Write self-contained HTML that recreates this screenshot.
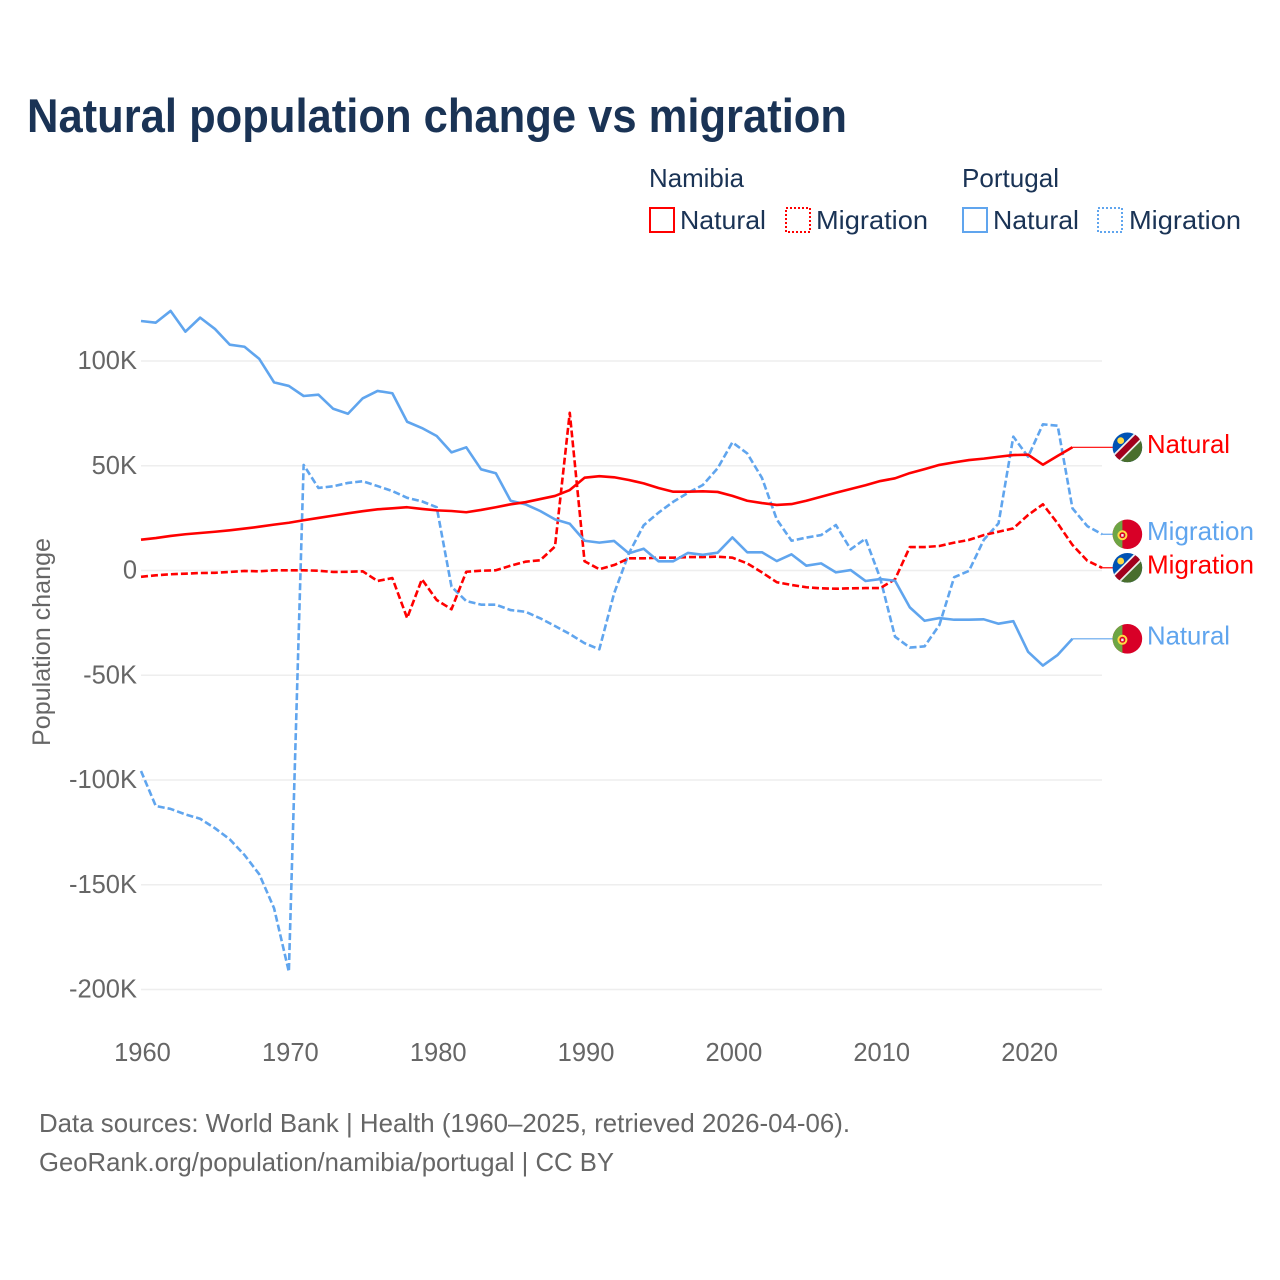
<!DOCTYPE html>
<html lang="en">
<head>
<meta charset="utf-8">
<title>Natural population change vs migration</title>
<style>
html,body{margin:0;padding:0;background:#fff;}
svg{display:block;font-family:"Liberation Sans",sans-serif;}
</style>
</head>
<body>
<svg id="chart" width="1280" height="1280" viewBox="0 0 1280 1280" xmlns="http://www.w3.org/2000/svg">
  <rect width="1280" height="1280" fill="#fff"/>
  <text x="27" y="132" font-size="47" font-weight="700" fill="#1a3355" textLength="820" lengthAdjust="spacingAndGlyphs">Natural population change vs migration</text>

  <g font-size="26" fill="#1a3355">
    <text x="649" y="187" textLength="95" lengthAdjust="spacingAndGlyphs">Namibia</text>
    <text x="962" y="187" textLength="97" lengthAdjust="spacingAndGlyphs">Portugal</text>
    <rect x="650" y="208" width="24" height="24" fill="none" stroke="#ff0000" stroke-width="2"/>
    <text x="680" y="229" textLength="86" lengthAdjust="spacingAndGlyphs">Natural</text>
    <rect x="786" y="208" width="24" height="24" fill="none" stroke="#ff0000" stroke-width="2" stroke-dasharray="2 2"/>
    <text x="816" y="229" textLength="112" lengthAdjust="spacingAndGlyphs">Migration</text>
    <rect x="963" y="208" width="24" height="24" fill="none" stroke="#60a5ee" stroke-width="2"/>
    <text x="993" y="229" textLength="86" lengthAdjust="spacingAndGlyphs">Natural</text>
    <rect x="1098" y="208" width="24" height="24" fill="none" stroke="#60a5ee" stroke-width="2" stroke-dasharray="2 2"/>
    <text x="1129" y="229" textLength="112" lengthAdjust="spacingAndGlyphs">Migration</text>
  </g>

  <g id="grid"></g>
  <g id="y-ticks" font-size="25.5" fill="#666" text-anchor="end"></g>
  <g id="x-ticks" font-size="25.5" fill="#666" text-anchor="middle"></g>
  <text transform="translate(50,642) rotate(-90)" text-anchor="middle" font-size="25" fill="#666" textLength="208" lengthAdjust="spacingAndGlyphs">Population change</text>

  <g id="series" fill="none"></g>

  <defs>
    <clipPath id="flag-clip"><circle cx="0" cy="0" r="14.8"/></clipPath>
  </defs>

  <g id="flag-namibia-natural">
    <g clip-path="url(#flag-clip)">
      <rect x="-15" y="-15" width="30" height="30" fill="#0052b4"/>
      <polygon points="15,-15 15,15 -15,15" fill="#496e2d"/>
      <line x1="-15" y1="15" x2="15" y2="-15" stroke="#f0f0f0" stroke-width="10"/>
      <line x1="-15" y1="15" x2="15" y2="-15" stroke="#a2001d" stroke-width="6.5"/>
      <circle cx="-6.7" cy="-6.7" r="3.4" fill="#ffda44"/>
    </g>
  </g>
  <g id="flag-namibia-migration">
    <g clip-path="url(#flag-clip)">
      <rect x="-15" y="-15" width="30" height="30" fill="#0052b4"/>
      <polygon points="15,-15 15,15 -15,15" fill="#496e2d"/>
      <line x1="-15" y1="15" x2="15" y2="-15" stroke="#f0f0f0" stroke-width="10"/>
      <line x1="-15" y1="15" x2="15" y2="-15" stroke="#a2001d" stroke-width="6.5"/>
      <circle cx="-6.7" cy="-6.7" r="3.4" fill="#ffda44"/>
    </g>
  </g>
  <g id="flag-portugal-natural">
    <g clip-path="url(#flag-clip)">
      <rect x="-15" y="-15" width="30" height="30" fill="#d80027"/>
      <rect x="-15" y="-15" width="10" height="30" fill="#6da544"/>
      <circle cx="-5" cy="1" r="4" fill="#d80027" stroke="#ffda44" stroke-width="2"/>
      <rect x="-6.2" y="-0.2" width="2.4" height="2.6" fill="#f0f0f0"/>
    </g>
  </g>
  <g id="flag-portugal-migration">
    <g clip-path="url(#flag-clip)">
      <rect x="-15" y="-15" width="30" height="30" fill="#d80027"/>
      <rect x="-15" y="-15" width="10" height="30" fill="#6da544"/>
      <circle cx="-5" cy="1" r="4" fill="#d80027" stroke="#ffda44" stroke-width="2"/>
      <rect x="-6.2" y="-0.2" width="2.4" height="2.6" fill="#f0f0f0"/>
    </g>
  </g>

  <g font-size="26">
    <text id="label-namibia-natural" x="1147" fill="#ff0000" textLength="83" lengthAdjust="spacingAndGlyphs">Natural</text>
    <text id="label-namibia-migration" x="1147" fill="#ff0000" textLength="107" lengthAdjust="spacingAndGlyphs">Migration</text>
    <text id="label-portugal-natural" x="1147" fill="#60a5ee" textLength="83" lengthAdjust="spacingAndGlyphs">Natural</text>
    <text id="label-portugal-migration" x="1147" fill="#60a5ee" textLength="107" lengthAdjust="spacingAndGlyphs">Migration</text>
  </g>

  <g font-size="26" fill="#666">
    <text x="39" y="1132" textLength="811" lengthAdjust="spacingAndGlyphs">Data sources: World Bank | Health (1960–2025, retrieved 2026-04-06).</text>
    <text x="39" y="1171" textLength="575" lengthAdjust="spacingAndGlyphs">GeoRank.org/population/namibia/portugal | CC BY</text>
  </g>
</svg>
<script>
const startYear = 1960;
const xTickYears = [1960, 1970, 1980, 1990, 2000, 2010, 2020];
const yTickValues = [100, 50, 0, -50, -100, -150, -200];
const yTickLabels = ["100K", "50K", "0", "-50K", "-100K", "-150K", "-200K"];

const namibiaNatural = [14.7,15.5,16.5,17.3,17.9,18.5,19.2,20.0,20.9,21.9,22.8,24.0,25.1,26.2,27.3,28.3,29.2,29.7,30.2,29.4,28.7,28.4,27.8,28.9,30.2,31.6,32.6,34.1,35.6,38.4,44.3,45.0,44.5,43.2,41.6,39.4,37.6,37.6,37.8,37.5,35.6,33.3,32.2,31.3,31.7,33.3,35.2,37.1,38.9,40.7,42.7,44.0,46.5,48.4,50.4,51.6,52.7,53.4,54.3,55.1,55.3,50.5,54.7,58.8];
const namibiaMigration = [-3.0,-2.3,-1.8,-1.5,-1.2,-1.1,-0.7,-0.2,-0.4,0.1,0.1,0.1,-0.1,-0.7,-0.6,-0.4,-5.0,-3.6,-22.7,-4.2,-14.1,-18.5,-0.6,-0.1,0.1,2.3,4.2,4.9,11.4,75.3,4.4,0.6,2.6,5.8,5.8,6.1,6.1,6.4,6.4,6.6,6.1,3.4,-0.9,-5.6,-6.9,-8.0,-8.5,-8.7,-8.5,-8.4,-8.4,-4.2,11.2,11.2,11.7,13.3,14.6,16.9,18.5,20.1,26.5,31.6,22.5,12.2,4.7,1.3];
const portugalNatural = [119.1,118.3,123.9,114.0,120.7,115.3,107.8,106.8,101.0,89.8,88.1,83.3,83.9,77.2,74.8,82.2,85.7,84.6,71.0,68.0,64.2,56.4,58.8,48.3,46.4,33.3,31.6,28.4,24.4,22.3,14.2,13.3,14.1,8.2,10.4,4.4,4.4,8.4,7.5,8.5,15.8,8.7,8.7,4.5,7.7,2.3,3.4,-0.9,0.2,-5.0,-4.1,-4.9,-17.6,-24.0,-22.7,-23.5,-23.5,-23.3,-25.4,-24.2,-38.8,-45.4,-40.3,-32.6];
const portugalMigration = [-95.7,-112.4,-113.8,-116.4,-118.5,-123.0,-128.3,-135.8,-145.0,-161.2,-191.5,50.4,39.4,40.2,41.8,42.6,40.3,37.9,34.7,33.0,30.2,-7.7,-14.6,-16.3,-16.3,-18.9,-19.7,-22.8,-26.5,-30.3,-34.7,-37.6,-10.9,8.2,21.6,27.6,32.8,37.1,40.8,48.8,61.2,55.9,44.2,24.4,14.2,15.7,16.9,21.7,10.1,15.2,-3.7,-31.6,-36.8,-36.2,-26.0,-3.2,-0.2,14.6,22.5,63.9,54.3,69.8,69.1,29.7,21.2,17.3];

const SVGNS = "http://www.w3.org/2000/svg";
const RED = "#ff0000";
const BLUE = "#60a5ee";

function xScale(year) { return 141 + (year - startYear) * 14.785; }
function yScale(value) { return 570.5 - value * 2.095; }
function make(tag, parent) {
  const el = document.createElementNS(SVGNS, tag);
  parent.appendChild(el);
  return el;
}

const gridGroup = document.getElementById("grid");
const yTickGroup = document.getElementById("y-ticks");
const xTickGroup = document.getElementById("x-ticks");
const seriesGroup = document.getElementById("series");

yTickValues.forEach(function (value, i) {
  const line = make("line", gridGroup);
  
  
  line.setAttribute("x1", 141);
  line.setAttribute("x2", 1102);
  line.setAttribute("y1", yScale(value));
  line.setAttribute("y2", yScale(value));
  line.setAttribute("stroke", "#eeeeee");
  line.setAttribute("stroke-width", 1.5);

  const label = make("text", yTickGroup);
  
  
  label.setAttribute("x", 137);
  label.setAttribute("y", yScale(value) + 8);
  label.textContent = yTickLabels[i];
});

xTickYears.forEach(function (year) {
  const label = make("text", xTickGroup);
  
  
  label.setAttribute("x", xScale(year) + 1.5);
  label.setAttribute("y", 1061);
  label.textContent = String(year);
});

function drawSeries(values, color, dashed, name, flagId, labelId) {
  let d = "";
  values.forEach(function (value, i) {
    d += (i === 0 ? "M" : "L") + xScale(startYear + i).toFixed(2) + " " + yScale(value).toFixed(2);
  });
  const path = make("path", seriesGroup);
  
  
  path.setAttribute("d", d);
  path.setAttribute("stroke", color);
  path.setAttribute("stroke-width", 2.6);
  path.setAttribute("stroke-linejoin", "round");
  if (dashed) path.setAttribute("stroke-dasharray", "7 3");

  const lastValue = values[values.length - 1];
  const lastX = xScale(startYear + values.length - 1);
  const lastY = yScale(lastValue);

  const connector = make("line", seriesGroup);
  
  
  connector.setAttribute("x1", lastX);
  connector.setAttribute("x2", 1114);
  connector.setAttribute("y1", lastY);
  connector.setAttribute("y2", lastY);
  connector.setAttribute("stroke", color);
  connector.setAttribute("stroke-width", 1.2);

  document.getElementById(flagId).setAttribute("transform", "translate(1127.4," + lastY + ")");
  document.getElementById(labelId).setAttribute("y", lastY + 5.8);
}

drawSeries(portugalMigration, BLUE, true, "line-portugal-migration", "flag-portugal-migration", "label-portugal-migration");
drawSeries(namibiaMigration, RED, true, "line-namibia-migration", "flag-namibia-migration", "label-namibia-migration");
drawSeries(portugalNatural, BLUE, false, "line-portugal-natural", "flag-portugal-natural", "label-portugal-natural");
drawSeries(namibiaNatural, RED, false, "line-namibia-natural", "flag-namibia-natural", "label-namibia-natural");
</script>
</body>
</html>
